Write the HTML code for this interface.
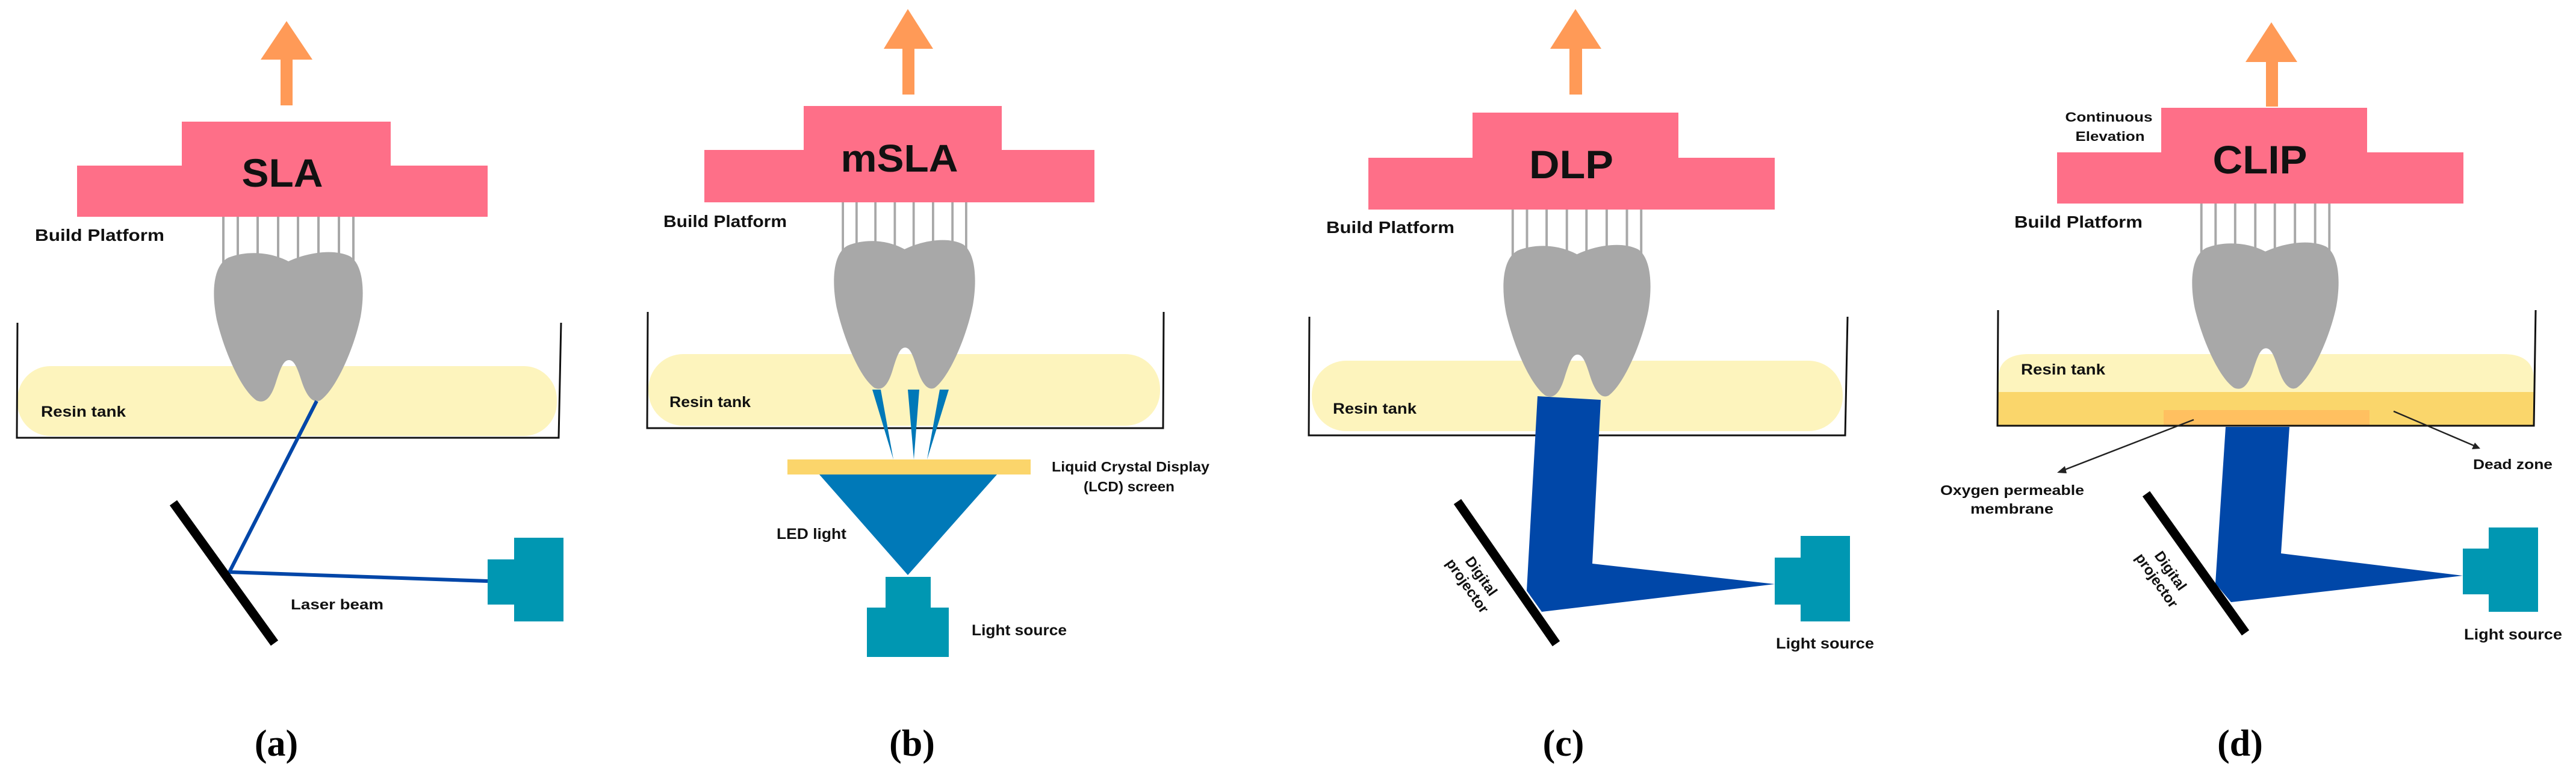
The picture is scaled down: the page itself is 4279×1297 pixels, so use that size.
<!DOCTYPE html>
<html><head><meta charset="utf-8"><style>
html,body{margin:0;padding:0;background:#fff;}
svg{display:block;}
text{font-family:"Liberation Sans",sans-serif;font-weight:bold;fill:#111;}
.cap{font-family:"Liberation Serif",serif;font-weight:bold;font-size:62px;fill:#000;}
</style></head><body>
<svg width="4279" height="1297" viewBox="0 0 4279 1297" xmlns="http://www.w3.org/2000/svg">
<defs>
<path id="tooth" d="M 25,12 C 55,0 95,2 125,18 C 155,4 200,-4 228,10 C 250,25 252,70 245,110 C 235,160 205,230 178,249 C 165,255 155,240 148,220 C 140,195 135,182 126,182 C 117,182 112,195 104,220 C 96,245 86,255 72,249 C 45,230 18,165 6,115 C -3,70 0,25 25,12 Z" fill="#a8a8a8"/>
<g id="sup" stroke="#a8a8a8" stroke-width="4">
<line x1="17" y1="-70" x2="17" y2="30"/><line x1="41" y1="-70" x2="41" y2="25"/><line x1="74" y1="-70" x2="74" y2="25"/><line x1="108" y1="-70" x2="108" y2="25"/><line x1="141" y1="-70" x2="141" y2="25"/><line x1="175" y1="-70" x2="175" y2="25"/><line x1="209" y1="-70" x2="209" y2="25"/><line x1="233" y1="-70" x2="233" y2="30"/>
</g>
</defs>

<!-- ===== (a) SLA ===== -->
<rect x="29" y="608" width="896" height="116" rx="55" fill="#fdf4bd"/>
<g transform="translate(354,416)"><use href="#sup"/><use href="#tooth"/></g>
<polygon points="476,35 519,99 486,99 486,175 466,175 466,99 433,99" fill="#ff9a57"/>
<polygon points="302,202 649,202 649,275 810,275 810,360 128,360 128,275 302,275" fill="#fe6f88"/>
<text x="469" y="310" font-size="66" text-anchor="middle" textLength="135" lengthAdjust="spacingAndGlyphs">SLA</text>
<text x="58" y="400" font-size="28" textLength="215" lengthAdjust="spacingAndGlyphs">Build Platform</text>
<polyline points="29,536 28,727 928,727 932,536" fill="none" stroke="#111" stroke-width="3"/>
<text x="68" y="692" font-size="25" textLength="141" lengthAdjust="spacingAndGlyphs">Resin tank</text>
<polyline points="526,666 381,950 810,965" fill="none" stroke="#0046a8" stroke-width="6"/>
<line x1="288" y1="835" x2="456" y2="1068" stroke="#000" stroke-width="15"/>
<rect x="810" y="929" width="46" height="75" fill="#0097b2"/>
<rect x="854" y="893" width="82" height="139" fill="#0097b2"/>
<text x="483" y="1012" font-size="24" textLength="154" lengthAdjust="spacingAndGlyphs">Laser beam</text>
<text class="cap" x="459" y="1255" text-anchor="middle">(a)</text>

<!-- ===== (b) mSLA ===== -->
<rect x="1077" y="588" width="850" height="119" rx="58" fill="#fdf4bd"/>
<g transform="translate(1384,396) scale(0.948,0.996)"><use href="#sup"/><use href="#tooth"/></g>
<polygon points="1508,15 1550,81 1519,81 1519,157 1499,157 1499,81 1468,81" fill="#ff9a57"/>
<polygon points="1335,176 1664,176 1664,249 1818,249 1818,336 1170,336 1170,249 1335,249" fill="#fe6f88"/>
<text x="1494" y="285" font-size="64" text-anchor="middle" textLength="195" lengthAdjust="spacingAndGlyphs">mSLA</text>
<text x="1102" y="377" font-size="28" textLength="205" lengthAdjust="spacingAndGlyphs">Build Platform</text>
<polyline points="1076,518 1075,711 1932,711 1933,518" fill="none" stroke="#111" stroke-width="3"/>
<text x="1112" y="676" font-size="25" textLength="135" lengthAdjust="spacingAndGlyphs">Resin tank</text>
<polygon points="1449,647 1463,647 1484,763" fill="#0078b8"/>
<polygon points="1508,647 1527,647 1518,763" fill="#0078b8"/>
<polygon points="1561,647 1576,647 1540,763" fill="#0078b8"/>
<rect x="1308" y="763" width="404" height="25" fill="#fbd56b"/>
<polygon points="1361,788 1656,788 1508,955" fill="#0079b8"/>
<rect x="1471" y="958" width="75" height="53" fill="#0097b2"/>
<rect x="1440" y="1009" width="136" height="82" fill="#0097b2"/>
<text x="1747" y="783" font-size="23" textLength="262" lengthAdjust="spacingAndGlyphs">Liquid Crystal Display</text>
<text x="1800" y="816" font-size="23" textLength="151" lengthAdjust="spacingAndGlyphs">(LCD) screen</text>
<text x="1290" y="895" font-size="25" textLength="116" lengthAdjust="spacingAndGlyphs">LED light</text>
<text x="1614" y="1055" font-size="25" textLength="158" lengthAdjust="spacingAndGlyphs">Light source</text>
<text class="cap" x="1515" y="1255" text-anchor="middle">(b)</text>

<!-- ===== (c) DLP ===== -->
<rect x="2179" y="599" width="882" height="117" rx="57" fill="#fdf4bd"/>
<g transform="translate(2496,404) scale(0.988,1.016)"><use href="#sup"/><use href="#tooth"/></g>
<polygon points="2617,15 2660,81 2628,81 2628,157 2607,157 2607,81 2575,81" fill="#ff9a57"/>
<polygon points="2446,187 2788,187 2788,262 2948,262 2948,348 2273,348 2273,262 2446,262" fill="#fe6f88"/>
<text x="2610" y="296" font-size="66" text-anchor="middle" textLength="140" lengthAdjust="spacingAndGlyphs">DLP</text>
<text x="2203" y="387" font-size="28" textLength="213" lengthAdjust="spacingAndGlyphs">Build Platform</text>
<polyline points="2175,526 2174,723 3065,723 3069,526" fill="none" stroke="#111" stroke-width="3"/>
<text x="2214" y="687" font-size="25" textLength="139" lengthAdjust="spacingAndGlyphs">Resin tank</text>
<polygon points="2554,658 2659,664 2645,936 2948,970 2561,1016 2536,981" fill="#0047a8"/>
<line x1="2421" y1="833" x2="2585" y2="1069" stroke="#000" stroke-width="15"/>
<g transform="translate(2449,965) rotate(55)">
<text x="0" y="-6" font-size="24" text-anchor="middle">Digital</text>
<text x="0" y="22" font-size="24" text-anchor="middle">projector</text>
</g>
<rect x="2948" y="926" width="45" height="78" fill="#0097b2"/>
<rect x="2991" y="890" width="82" height="142" fill="#0097b2"/>
<text x="2950" y="1077" font-size="25" textLength="163" lengthAdjust="spacingAndGlyphs">Light source</text>
<text class="cap" x="2597" y="1255" text-anchor="middle">(c)</text>

<!-- ===== (d) CLIP ===== -->
<path d="M3319,651 L3319,630 Q3319,588 3370,588 L4158,588 Q4209,588 4209,630 L4209,651 Z" fill="#fdf4bd"/>
<rect x="3319" y="651" width="890" height="56" fill="#fad66b"/>
<rect x="3594" y="681" width="342" height="26" fill="#ffc060"/>
<g transform="translate(3640,400) scale(0.984,0.98)"><use href="#sup"/><use href="#tooth"/></g>
<polygon points="3773,37 3816,103 3784,103 3784,177 3764,177 3764,103 3730,103" fill="#ff9a57"/>
<polygon points="3590,179 3932,179 3932,253 4092,253 4092,338 3417,338 3417,253 3590,253" fill="#fe6f88"/>
<text x="3754" y="288" font-size="66" text-anchor="middle" textLength="157" lengthAdjust="spacingAndGlyphs">CLIP</text>
<text x="3503" y="202" font-size="22" text-anchor="middle" textLength="145" lengthAdjust="spacingAndGlyphs">Continuous</text>
<text x="3505" y="234" font-size="22" text-anchor="middle" textLength="115" lengthAdjust="spacingAndGlyphs">Elevation</text>
<text x="3346" y="378" font-size="28" textLength="213" lengthAdjust="spacingAndGlyphs">Build Platform</text>
<polyline points="3319,515 3318,707 4209,707 4212,515" fill="none" stroke="#111" stroke-width="3"/>
<text x="3357" y="622" font-size="25" textLength="140" lengthAdjust="spacingAndGlyphs">Resin tank</text>
<line x1="3644" y1="697" x2="3422" y2="783" stroke="#222" stroke-width="2.5"/>
<polygon points="3417,785 3430,774 3433,786" fill="#222"/>
<line x1="3976" y1="683" x2="4114" y2="742" stroke="#222" stroke-width="2.5"/>
<polygon points="4120,745 4106,746 4111,735" fill="#222"/>
<text x="4108" y="779" font-size="23" textLength="132" lengthAdjust="spacingAndGlyphs">Dead zone</text>
<text x="3223" y="822" font-size="23" textLength="239" lengthAdjust="spacingAndGlyphs">Oxygen permeable</text>
<text x="3342" y="853" font-size="23" text-anchor="middle" textLength="138" lengthAdjust="spacingAndGlyphs">membrane</text>
<polygon points="3697,709 3803,709 3789,919 4091,956 3706,1000 3680,969" fill="#0047a8"/>
<line x1="3565" y1="820" x2="3730" y2="1051" stroke="#000" stroke-width="15"/>
<g transform="translate(3594,956) rotate(55)">
<text x="0" y="-6" font-size="24" text-anchor="middle">Digital</text>
<text x="0" y="22" font-size="24" text-anchor="middle">projector</text>
</g>
<rect x="4091" y="911" width="45" height="76" fill="#0097b2"/>
<rect x="4134" y="876" width="82" height="140" fill="#0097b2"/>
<text x="4093" y="1062" font-size="25" textLength="163" lengthAdjust="spacingAndGlyphs">Light source</text>
<text class="cap" x="3721" y="1255" text-anchor="middle">(d)</text>
</svg>
</body></html>
